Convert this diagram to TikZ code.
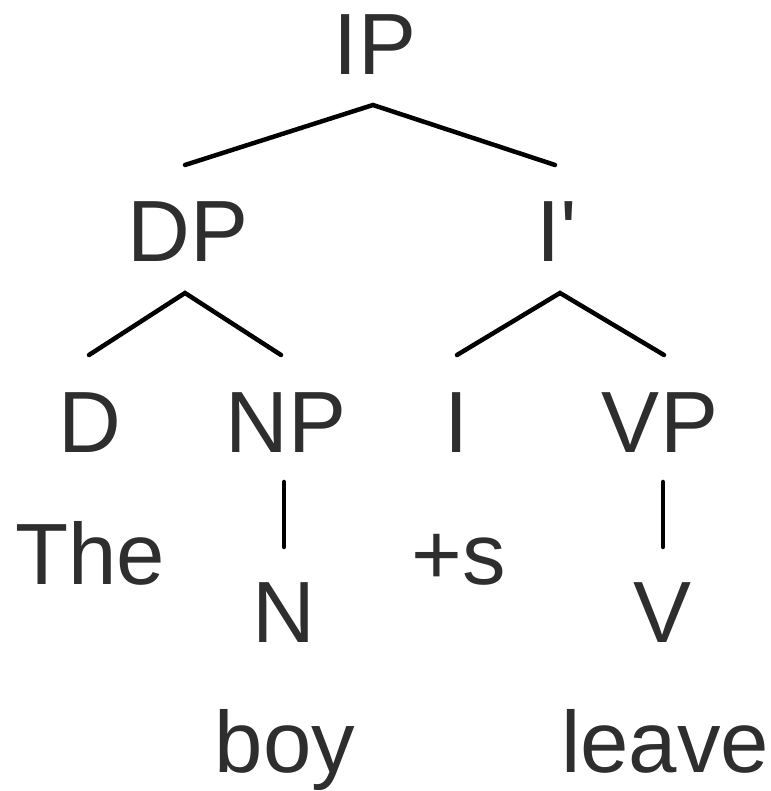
\documentclass[tikz,border=0pt]{standalone}
\usepackage{fontspec}
\setmainfont{Liberation Sans}[Ligatures=TeXOff]
\begin{document}
\begin{tikzpicture}[x=1pt,y=1pt,
  lbl/.style={anchor=base,inner sep=0pt,font=\fontsize{87}{87}\selectfont,text=black!82},
  branch/.style={line width=4.5pt,line cap=round,black}]
\useasboundingbox (0,0) rectangle (770,791);
% labels
\node[lbl] (IP) at (375,716) {IP};
\node[lbl] (DP) at (188,529) {DP};
\node[lbl] (Ibar) at (557,529) {I'};
\node[lbl] (D) at (90,338) {D};
\node[lbl] (NP) at (286,338) {NP};
\node[lbl] (I) at (457,338) {I};
\node[lbl] (VP) at (660,338) {VP};
\node[lbl] (The) at (90,206) {The};
\node[lbl] (s) at (459,206) {+s};
\node[lbl] (N) at (284,148) {N};
\node[lbl] (V) at (663,148) {V};
\node[lbl] (boy) at (285,18) {boy};
\node[lbl] (leave) at (665,18) {leave};
% branch points
\coordinate (IPb) at (373,686);
\coordinate (IPl) at (185,626);
\coordinate (IPr) at (555,626);
\coordinate (DPb) at (185,498);
\coordinate (DPl) at (89,436);
\coordinate (DPr) at (281,436);
\coordinate (Ib) at (560,498);
\coordinate (Il) at (457,436);
\coordinate (Ir) at (664,436);
\coordinate (NPb) at (284,309);
\coordinate (Nt) at (284,244);
\coordinate (VPb) at (663,309);
\coordinate (Vt) at (663,244);
% connectors
\draw[branch] (IPl) -- (IPb) -- (IPr);
\draw[branch] (DPl) -- (DPb) -- (DPr);
\draw[branch] (Il) -- (Ib) -- (Ir);
\draw[branch] (NPb) -- (Nt);
\draw[branch] (VPb) -- (Vt);
\end{tikzpicture}
\end{document}
